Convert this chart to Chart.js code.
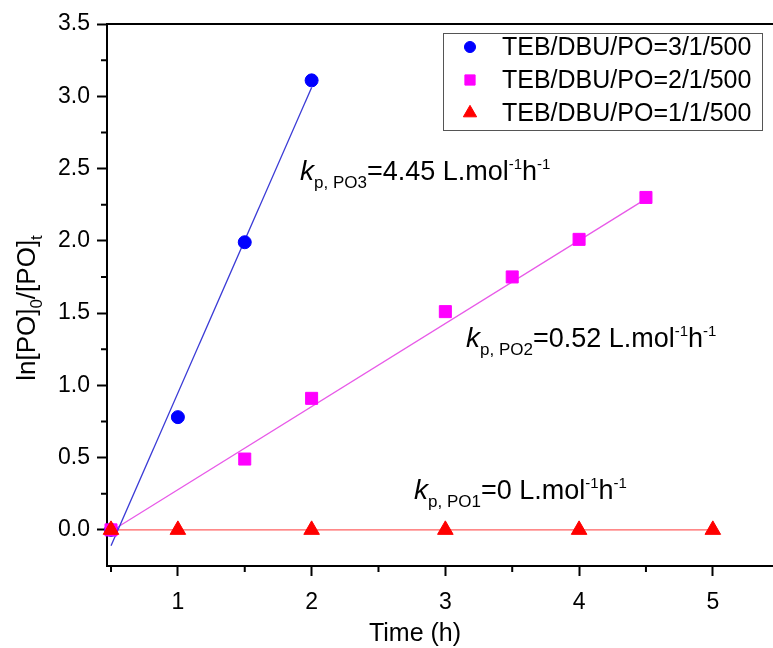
<!DOCTYPE html>
<html>
<head>
<meta charset="utf-8">
<script src="https://cdn.jsdelivr.net/npm/chart.js@4.4.1/dist/chart.umd.min.js"></script>
<style>
  body { margin: 0; background: #fff; }
</style>
</head>
<body>
<canvas id="kinetics" width="773" height="648"></canvas>
<script>
//measured points, TEB/DBU/PO = 3/1/500
var timeBlue = [0.5, 1, 1.5, 2];
var lnBlue = [0, 0.78, 1.99, 3.11];
//TEB/DBU/PO = 2/1/500
var timeMag = [0.5, 1.5, 2, 3, 3.5, 4, 4.5];
var lnMag = [0, 0.49, 0.91, 1.51, 1.75, 2.01, 2.30];
//TEB/DBU/PO = 1/1/500
var timeRed = [0.5, 1, 2, 3, 4, 5];
var lnRed = [0, 0, 0, 0, 0, 0];

//linear fit end points
var fitBlueX = [0.5, 2], fitBlueY = [-0.11, 3.06];
var fitMagX = [0.5, 4.5], fitMagY = [-0.01, 2.29];
var fitRedX = [0.5, 5], fitRedY = [0, 0];

//axis ticks
var xMajor = [1, 2, 3, 4, 5];
var xMinor = [0.5, 1.5, 2.5, 3.5, 4.5];
var yMajor = [0, 0.5, 1, 1.5, 2, 2.5, 3, 3.5];
var yMinor = [0.25, 0.75, 1.25, 1.75, 2.25, 2.75, 3.25];

var seriesLabels = ["TEB/DBU/PO=3/1/500", "TEB/DBU/PO=2/1/500", "TEB/DBU/PO=1/1/500"];

var FONT = "'Liberation Sans', Arial, sans-serif";

//zip x and y arrays into points
function pts( xs, ys ){
    var out = [];
    for( var i = 0; i < xs.length; i++ )
        out.push( {x: xs[i], y: ys[i]} );
    return out;
}

//font for a piece of rich text
function richFont( kind, big ){
    if( kind == "i" ) return "italic " + (big + 1) + "px " + FONT;
    if( kind == "sub" ) return Math.round( big * 0.64 ) + "px " + FONT;
    if( kind == "sup" ) return Math.round( big * 0.56 ) + "px " + FONT;
    return big + "px " + FONT;
}

//draw text with italic / sub / sup pieces
function drawRich( ctx, x, y, parts, big ){
    ctx.textBaseline = "alphabetic";
    ctx.textAlign = "left";
    for( var i = 0; i < parts.length; i++ ){
        var t = parts[i][0], kind = parts[i][1], dy = 0;
        if( kind == "sub" ) dy = big * 0.28;
        if( kind == "sup" ) dy = -big * 0.42;
        ctx.font = richFont( kind, big );
        ctx.fillText( t, x, y + dy );
        x += ctx.measureText( t ).width;
    }
    return x;
}

function richWidth( ctx, parts, big ){
    var w = 0;
    parts.forEach( function(p){
        ctx.font = richFont( p[1], big );
        w += ctx.measureText( p[0] ).width;
    });
    return w;
}

var extras = {
    id: "extras",
    afterDraw: function( chart ){
        var ctx = chart.ctx, a = chart.chartArea;
        var xs = chart.scales.x, ys = chart.scales.y;
        ctx.save();
        ctx.fillStyle = "#000";
        ctx.strokeStyle = "#000";

        //top frame line
        ctx.lineWidth = 2;
        ctx.beginPath();
        ctx.moveTo( a.left - 1, a.top );
        ctx.lineTo( chart.width, a.top );
        ctx.stroke();

        //minor ticks
        ctx.beginPath();
        xMinor.forEach( function(v){
            var px = xs.getPixelForValue( v );
            ctx.moveTo( px, a.bottom );
            ctx.lineTo( px, a.bottom + 6 );
        });
        yMinor.forEach( function(v){
            var py = ys.getPixelForValue( v );
            ctx.moveTo( a.left, py );
            ctx.lineTo( a.left - 6, py );
        });
        ctx.stroke();

        //axis titles
        ctx.font = "25px " + FONT;
        ctx.textAlign = "center";
        ctx.textBaseline = "alphabetic";
        ctx.fillText( "Time (h)", 415, 641 );

        ctx.save();
        ctx.translate( 35, 0 );
        ctx.rotate( -Math.PI / 2 );
        var yParts = [["ln[PO]", "n"], ["0", "sub"], ["/[PO]", "n"], ["t", "sub"]];
        var w = richWidth( ctx, yParts, 26 );
        drawRich( ctx, -308 - w / 2, 0, yParts, 26 );
        ctx.restore();

        //rate constant labels
        drawRich( ctx, 300, 180, [["k", "i"], ["p, PO3", "sub"], ["=4.45 L.mol", "n"], ["-1", "sup"], ["h", "n"], ["-1", "sup"]], 27 );
        drawRich( ctx, 466, 347, [["k", "i"], ["p, PO2", "sub"], ["=0.52 L.mol", "n"], ["-1", "sup"], ["h", "n"], ["-1", "sup"]], 27 );
        drawRich( ctx, 414, 499, [["k", "i"], ["p, PO1", "sub"], ["=0 L.mol", "n"], ["-1", "sup"], ["h", "n"], ["-1", "sup"]], 27 );

        //legend box
        ctx.lineWidth = 1;
        ctx.strokeStyle = "#555";
        ctx.strokeRect( 443.5, 33.5, 319, 97 );
        ctx.font = "25px " + FONT;
        ctx.textAlign = "left";
        ctx.textBaseline = "middle";
        var rows = [47, 80, 113];
        for( var i = 0; i < 3; i++ ){
            var ds = chart.data.datasets[i];
            ctx.fillStyle = ds.backgroundColor;
            ctx.strokeStyle = ds.borderColor;
            ctx.lineWidth = 1;
            Chart.helpers.drawPoint( ctx, {pointStyle: ds.pointStyle, radius: ds.pointRadius * 0.85, borderWidth: 1, rotation: 0}, 470, rows[i] );
            ctx.fillStyle = "#000";
            ctx.fillText( seriesLabels[i], 502, rows[i] + 1 );
        }
        ctx.restore();
    }
};

var tickFont = { family: FONT, size: 23 };

new Chart( document.getElementById("kinetics").getContext("2d"), {
    type: "scatter",
    data: {
        datasets: [{
            label: seriesLabels[0],
            data: pts( timeBlue, lnBlue ),
            pointStyle: "circle",
            pointRadius: 6.5,
            backgroundColor: "#0000ff",
            borderColor: "#0000ff",
            borderWidth: 1,
            order: 3
        },{
            label: seriesLabels[1],
            data: pts( timeMag, lnMag ),
            pointStyle: "rect",
            pointRadius: 8.5,
            backgroundColor: "#ff00ff",
            borderColor: "#ff00ff",
            borderWidth: 1,
            order: 2
        },{
            label: seriesLabels[2],
            data: pts( timeRed, lnRed ),
            pointStyle: "triangle",
            pointRadius: 9,
            backgroundColor: "#ff0000",
            borderColor: "#ff0000",
            borderWidth: 1,
            order: 1
        },{
            type: "line",
            data: pts( fitBlueX, fitBlueY ),
            borderColor: "#3a3ad6",
            borderWidth: 1.3,
            pointRadius: 0,
            order: 10
        },{
            type: "line",
            data: pts( fitMagX, fitMagY ),
            borderColor: "#e85ae8",
            borderWidth: 1.3,
            pointRadius: 0,
            order: 10
        },{
            type: "line",
            data: pts( fitRedX, fitRedY ),
            borderColor: "#ff6060",
            borderWidth: 1.3,
            pointRadius: 0,
            order: 10
        }]
    },
    options: {
        responsive: false,
        animation: false,
        clip: false,
        layout: { autoPadding: false, padding: { top: 24, right: 0, left: 0, bottom: 0 } },
        plugins: {
            legend: { display: false },
            tooltip: { enabled: false }
        },
        scales: {
            x: {
                type: "linear",
                min: 0.47,
                max: 5.45,
                afterBuildTicks: function(s){ s.ticks = xMajor.map( function(v){ return {value: v}; } ); },
                afterFit: function(s){ s.height = 82; s.paddingLeft = 0; s.paddingRight = 0; },
                border: { display: true, color: "#000", width: 2 },
                grid: { drawOnChartArea: false, drawTicks: true, tickLength: 10, tickWidth: 2, tickColor: "#000" },
                ticks: { font: tickFont, color: "#000", padding: 13, maxRotation: 0, autoSkip: false,
                         callback: function(v){ return String(v); } }
            },
            y: {
                type: "linear",
                min: -0.25,
                max: 3.5,
                afterBuildTicks: function(s){ s.ticks = yMajor.map( function(v){ return {value: v}; } ); },
                afterFit: function(s){ s.width = 107; s.paddingTop = 0; s.paddingBottom = 0; },
                border: { display: true, color: "#000", width: 2 },
                grid: { drawOnChartArea: false, drawTicks: true, tickLength: 10, tickWidth: 2, tickColor: "#000" },
                ticks: { font: tickFont, color: "#000", padding: 7, autoSkip: false,
                         callback: function(v){ return v.toFixed(1); } }
            }
        }
    },
    plugins: [extras]
});
</script>
</body>
</html>
